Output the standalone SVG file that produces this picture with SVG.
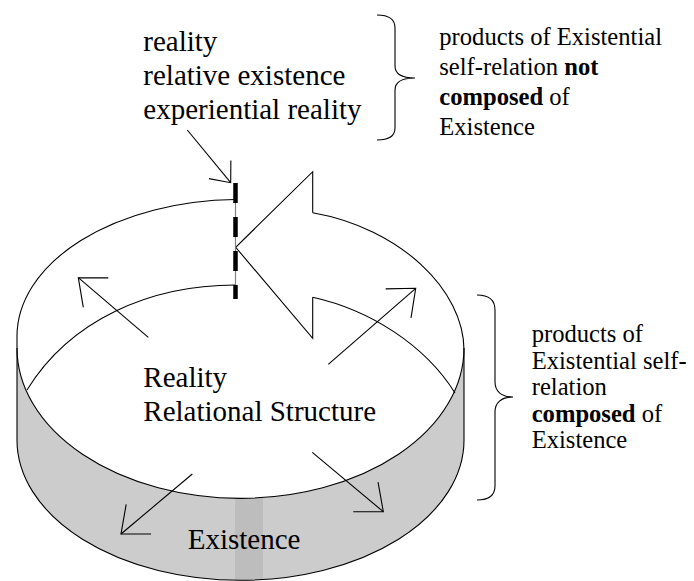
<svg xmlns="http://www.w3.org/2000/svg" width="694" height="581" viewBox="0 0 694 581">
<style>
.ln{fill:none;stroke:#000;stroke-width:1.1}
.t{font-family:"Liberation Serif","Times New Roman",serif;fill:#000}
.big{font-size:29px}
.sm{font-size:24.6px}
.b{font-weight:bold}
</style>
<defs>
<clipPath id="bandClip"><path d="M17,348 A223,150 0 0 0 464,348 L464,440 A223,140 0 0 1 17,440 Z"/></clipPath>
<marker id="head" markerUnits="userSpaceOnUse" orient="auto" refX="0" refY="0" markerWidth="1" markerHeight="1" overflow="visible"><path d="M-23,-19.3 L0,0 L-23,19.3" fill="none" stroke="#000" stroke-width="1.1"/></marker>
<marker id="headS" markerUnits="userSpaceOnUse" orient="auto" refX="0" refY="0" markerWidth="1" markerHeight="1" overflow="visible"><path d="M-17,-14.2 L0,0 L-17,14.2" fill="none" stroke="#000" stroke-width="1.1"/></marker>
</defs>
<rect width="694" height="581" fill="#fff"/>
<g id="cylinder">
<path d="M17,348 A223,150 0 0 0 464,348 L464,440 A223,140 0 0 1 17,440 Z" fill="#cccccc"/>
<rect x="235" y="490" width="28" height="95" fill="#bdbdbd" clip-path="url(#bandClip)"/>
<path class="ln" d="M17,348 A223,150 0 0 0 464,348"/>
<path class="ln" d="M17,336 L17,440 A223,140 0 0 0 464,440 L464,350"/>
<path class="ln" d="M235,199.5 A223,137 0 0 0 17,336"/>
<path class="ln" d="M27,390 C70,320 150,285 235.5,285"/>
</g>
<g id="big-arrow">
<path class="ln" d="M312.7,212.7 C400,228 464,290 464,350"/>
<path class="ln" d="M312.7,297.3 C370,310 425,345 455,393"/>
<polyline class="ln" points="312.7,212.7 312.7,171.7 235.7,247.3 312.7,338.3 312.7,297.3"/>
</g>
<g id="divider">
<line x1="235.5" y1="183" x2="235.5" y2="299" stroke="#808080" stroke-width="1.2"/>
<line x1="235.5" y1="183" x2="235.5" y2="299" stroke="#000" stroke-width="4.5" stroke-dasharray="20 14"/>
</g>
<g id="connectors">
<path class="ln" d="M187.3,130 L230.7,182.7" marker-end="url(#headS)"/>
<path class="ln" d="M148.3,337.3 L78.3,277.7" marker-end="url(#head)"/>
<path class="ln" d="M328.3,364.3 L415.7,288.3" marker-end="url(#head)"/>
<path class="ln" d="M192.3,474 L121,534" marker-end="url(#head)"/>
<path class="ln" d="M312.3,452.3 L383.3,511.7" marker-end="url(#head)"/>
</g>
<g id="label-top">
<text class="t big" x="143.3" y="51">reality</text>
<text class="t big" x="143.3" y="85">relative existence</text>
<text class="t big" x="143.3" y="119">experiential reality</text>
</g>
<g id="brace-top">
<path class="ln" d="M377,15 C389,15 395,19 395,28 L395,66 C395,74 401,78 415,78 C401,78 395,82 395,90 L395,128 C395,136 389,140 377,140"/>
</g>
<g id="note-top">
<text class="t sm" x="439.3" y="45">products of Existential</text>
<text class="t sm" x="439.3" y="75">self-relation <tspan class="b">not</tspan></text>
<text class="t sm" x="439.3" y="105"><tspan class="b">composed</tspan> of</text>
<text class="t sm" x="439.3" y="135">Existence</text>
</g>
<g id="brace-bottom">
<path class="ln" d="M477,295 C489,295 495,300 495,310 L495,382 C495,391 501,397 513,397 C501,397 495,403 495,412 L495,486 C495,495 489,500 477,500"/>
</g>
<g id="note-bottom">
<text class="t sm" x="531.7" y="342">products of</text>
<text class="t sm" x="531.7" y="368.5">Existential self-</text>
<text class="t sm" x="531.7" y="395">relation</text>
<text class="t sm" x="531.7" y="421.5"><tspan class="b">composed</tspan> of</text>
<text class="t sm" x="531.7" y="448">Existence</text>
</g>
<g id="label-center">
<text class="t big" x="143.3" y="387">Reality</text>
<text class="t big" x="143.3" y="421">Relational Structure</text>
</g>
<g id="label-existence">
<text class="t big" x="187.7" y="549">Existence</text>
</g>
</svg>
